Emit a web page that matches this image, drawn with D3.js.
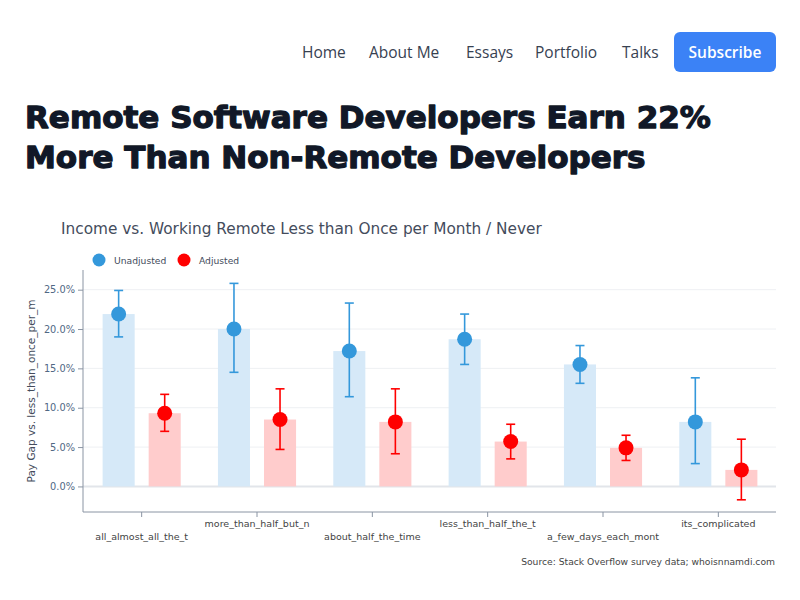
<!DOCTYPE html>
<html><head><meta charset="utf-8">
<script src="https://cdn.jsdelivr.net/npm/d3@7"></script>
<style>body{margin:0;background:#fff;}svg{display:block;}</style>
</head><body>
<svg id="c" width="800" height="600"></svg>
<script>
const navItems = ["Home","About Me","Essays","Portfolio","Talks"];
const navX = [302,369,466,535,622];
const headingLines = ["Remote Software Developers Earn 22%","More Than Non-Remote Developers"];
const chartTitle = "Income vs. Working Remote Less than Once per Month / Never";
const categories = ["all_almost_all_the_t","more_than_half_but_n","about_half_the_time","less_than_half_the_t","a_few_days_each_mont","its_complicated"];
const seriesNames = ["Unadjusted","Adjusted"];
const unadjusted = [21.9,20.0,17.2,18.7,15.5,8.2];
const unadjustedLow = [19.0,14.5,11.4,15.5,13.1,2.9];
const unadjustedHigh = [24.9,25.8,23.3,21.9,17.9,13.8];
const adjusted = [9.3,8.5,8.2,5.7,4.9,2.1];
const adjustedLow = [7.0,4.7,4.15,3.5,3.3,-1.7];
const adjustedHigh = [11.7,12.4,12.4,7.9,6.5,6.0];
const yTicks = [0,5,10,15,20,25];
const yLabel = "Pay Gap vs. less_than_once_per_m";
const source = "Source: Stack Overflow survey data; whoisnnamdi.com";

const svg = d3.select("#c");
function fit(sel, w){ const l = sel.node().getComputedTextLength(); const fs = parseFloat(sel.attr("font-size")); sel.attr("font-size", fs*w/l); }

// Nav
navItems.forEach((t,i)=>{
  svg.append("text").attr("x",navX[i]).attr("y",58).attr("font-family","Open Sans, Noto Sans, sans-serif")
    .attr("font-size",15.5).attr("fill","#374151").text(t);
});
svg.append("rect").attr("x",674).attr("y",32).attr("width",102).attr("height",40).attr("rx",6).attr("fill","#3b82f6");
svg.append("text").attr("x",725).attr("y",58).attr("text-anchor","middle").attr("font-family","Open Sans, Noto Sans, sans-serif")
  .attr("font-size",15.5).attr("font-weight",600).attr("fill","#fff").text("Subscribe");

// Heading
const h1 = svg.append("text").attr("x",25).attr("y",128).attr("font-family","DejaVu Sans, sans-serif").attr("font-weight",900)
  .attr("font-size",34).attr("fill","#111827").attr("stroke","#111827").attr("stroke-width",1.3).attr("stroke-linejoin","round")
  .text(headingLines[0]);
fit(h1, 686);
const fsH = h1.attr("font-size");
svg.append("text").attr("x",25).attr("y",168).attr("font-family","DejaVu Sans, sans-serif").attr("font-weight",900)
  .attr("font-size",fsH).attr("fill","#111827").attr("stroke","#111827").attr("stroke-width",1.3).attr("stroke-linejoin","round")
  .text(headingLines[1]);

// Chart title
const ct = svg.append("text").attr("x",61).attr("y",234).attr("font-family","DejaVu Sans, sans-serif")
  .attr("font-size",15).attr("fill","#444c5c").text(chartTitle);
fit(ct, 481);

// Legend
const legColors = ["#3498db","#ff0000"];
const legX = [99,184];
seriesNames.forEach((n,i)=>{
  svg.append("circle").attr("cx",legX[i]).attr("cy",260).attr("r",6.5).attr("fill",legColors[i]);
  svg.append("text").attr("x",legX[i]+15).attr("y",263.5).attr("font-family","DejaVu Sans, sans-serif")
    .attr("font-size",9.2).attr("fill","#444c5c").text(n);
});

// Scales
const pLeft = 83, pRight = 776, pTop = 270, pBottom = 512;
const y = d3.scaleLinear().domain([-3.25, 27.5]).range([pBottom, pTop]);
const x0 = d3.scaleBand().domain(categories).range([pLeft+1, pRight]).paddingInner(0.08).paddingOuter(0.04);
const x1 = d3.scaleBand().domain(seriesNames).range([0, x0.bandwidth()]).padding(0.304);

// Grid
const g = svg.append("g");
yTicks.forEach(t=>{
  g.append("line").attr("x1",pLeft).attr("x2",pRight).attr("y1",y(t)).attr("y2",y(t))
    .attr("stroke", t===0 ? "#e2e5ea" : "#eef0f3").attr("stroke-width", t===0?2:1);
});

// Y axis
const yAxis = svg.append("g").attr("transform",`translate(${pLeft},0)`)
  .call(d3.axisLeft(y).tickValues(yTicks).tickSize(5).tickPadding(3).tickFormat(d=>d.toFixed(1)+"%"));
yAxis.select(".domain").remove();
yAxis.selectAll(".tick line").attr("stroke","#8a94a3");
yAxis.selectAll("text").attr("font-family","DejaVu Sans, sans-serif").attr("font-size",9.8).attr("fill","#506784");
svg.append("line").attr("x1",pLeft).attr("x2",pLeft).attr("y1",pTop).attr("y2",pBottom).attr("stroke","#8a94a3");

// X axis
const xAxis = svg.append("g").attr("transform",`translate(0,${pBottom})`)
  .call(d3.axisBottom(x0).tickSize(5).tickPadding(4));
xAxis.select(".domain").remove();
svg.append("line").attr("x1",pLeft).attr("x2",pRight).attr("y1",pBottom).attr("y2",pBottom).attr("stroke","#8a94a3");
xAxis.selectAll(".tick line").attr("stroke","#8a94a3");
xAxis.selectAll("text").attr("font-family","DejaVu Sans, sans-serif").attr("font-size",9.5).attr("fill","#444")
  .attr("dy",(d,i)=> i%2===0 ? "1.95em" : "0.62em");

// Bars and error bars
const series = [
  {name:"Unadjusted", v:unadjusted, lo:unadjustedLow, hi:unadjustedHigh, c:"#3498db", bar:"#d6e9f8"},
  {name:"Adjusted", v:adjusted, lo:adjustedLow, hi:adjustedHigh, c:"#ff0000", bar:"#ffcccc"}
];
const bw = x1.bandwidth();
series.forEach(s=>{
  const gg = svg.append("g");
  categories.forEach((cat,i)=>{
    const bx = x0(cat)+x1(s.name);
    gg.append("rect").attr("x",bx).attr("width",bw).attr("y",y(Math.max(0,s.v[i]))).attr("height",Math.abs(y(s.v[i])-y(0))).attr("fill",s.bar);
  });
});
series.forEach(s=>{
  const gg = svg.append("g");
  categories.forEach((cat,i)=>{
    const cx = x0(cat)+x1(s.name)+bw/2;
    gg.append("line").attr("x1",cx).attr("x2",cx).attr("y1",y(s.lo[i])).attr("y2",y(s.hi[i])).attr("stroke",s.c).attr("stroke-width",1.6);
    [s.lo[i],s.hi[i]].forEach(e=>{
      gg.append("line").attr("x1",cx-4.5).attr("x2",cx+4.5).attr("y1",y(e)).attr("y2",y(e)).attr("stroke",s.c).attr("stroke-width",1.6);
    });
    gg.append("circle").attr("cx",cx).attr("cy",y(s.v[i])).attr("r",7.5).attr("fill",s.c);
  });
});

// Y label
svg.append("text").attr("transform","translate(35,391) rotate(-90)").attr("text-anchor","middle")
  .attr("font-family","DejaVu Sans, sans-serif").attr("font-size",10.5).attr("fill","#444c5c").text(yLabel);

// Source
const src = svg.append("text").attr("x",775).attr("y",565).attr("text-anchor","end").attr("font-family","DejaVu Sans, sans-serif")
  .attr("font-size",9).attr("fill","#444").text(source);
fit(src, 254);
</script>
</body></html>
